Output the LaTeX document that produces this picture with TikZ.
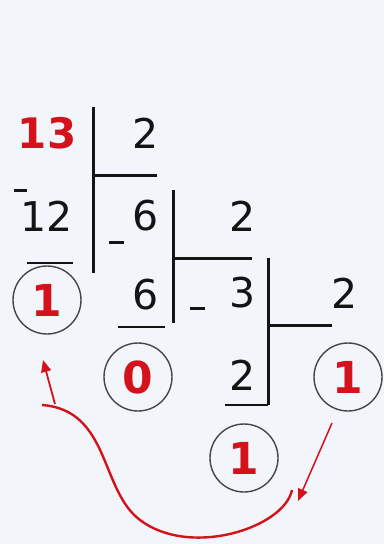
\documentclass[tikz,border=0pt]{standalone}
\usepackage{fontspec}
\setmainfont{DejaVu Sans}
\usetikzlibrary{arrows.meta}
\definecolor{bg}{RGB}{242,245,250}
\definecolor{rd}{RGB}{212,18,28}
\definecolor{ink}{RGB}{20,20,20}
\definecolor{ring}{RGB}{70,70,70}
\tikzset{
  num/.style={inner sep=0pt, text=ink, font=\fontsize{41}{41}\selectfont},
  rnum/.style={inner sep=0pt, text=rd, font=\fontsize{42}{42}\selectfont\bfseries},
  rem/.style={circle, draw=ring, line width=1.4pt, minimum size=68pt, inner sep=0pt, text=rd, font=\fontsize{44}{44}\selectfont\bfseries},
  bar/.style={draw=ink, line width=3pt},
  uline/.style={draw=ink, line width=2.2pt},
  minus/.style={draw=ink, line width=3pt},
  redline/.style={draw=rd, line width=2.4pt},
}
\begin{document}
\begin{tikzpicture}[x=1pt,y=-1pt]
\fill[bg] (0,0) rectangle (384,544);
\useasboundingbox (0,0) rectangle (384,544);
% numbers
\node[rnum] (n13) at (47,133) {13};
\node[num] (d1) at (146,133) {2};
\node[num] (n12) at (47,216) {12};
\node[num] (q6) at (146,216) {6};
\node[num] (d2) at (243,216) {2};
\node[num] (n6) at (146,295) {6};
\node[num] (q3) at (243,293) {3};
\node[num] (d3) at (345,293) {2};
\node[num] (n2) at (243,375) {2};
% remainders
\node[rem] (r0) at (47,300) {1};
\node[rem] (r1) at (138,377) {0};
\node[rem] (r2) at (348,377) {1};
\node[rem] (r3) at (244,458) {1};
% minus signs
\draw[minus] (14,190) -- (27,190);
\draw[minus] (109,242) -- (124,242);
\draw[minus] (190,308) -- (205,308);
% division bars
\draw[bar] (93,107) -- (93,273);
\draw[bar] (93,175) -- (157,175);
\draw[uline] (27,263) -- (73,263);
\draw[bar] (173,190) -- (173,323);
\draw[bar] (173,258) -- (252,258);
\draw[uline] (118,327) -- (165,327);
\draw[bar] (268,258) -- (268,405);
\draw[bar] (268,325) -- (332,325);
\draw[uline] (225,405) -- (268,405);
% arrows
\coordinate (cs) at (292,490);
\coordinate (cm) at (140,520);
\coordinate (ce) at (42,405);
\coordinate (as) at (55,404);
\coordinate (at) at (43,360);
\coordinate (bs) at (332,423);
\coordinate (bt) at (298,501);
\draw[redline] (cs) .. controls (284,528) and (190,558) .. (cm)
  .. controls (100,490) and (110,410) .. (ce);
\draw[rd, line width=1.8pt, -{Triangle[length=12pt,width=10pt]}] (as) -- (at);
\draw[rd, line width=1.5pt, -{Triangle[length=12pt,width=10pt]}] (bs) -- (bt);
\end{tikzpicture}
\end{document}
